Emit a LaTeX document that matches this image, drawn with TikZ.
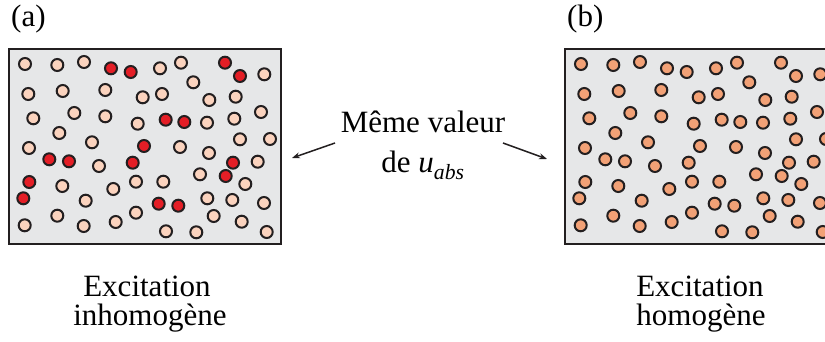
\documentclass[tikz,border=0pt]{standalone}
\usepackage{fontspec}
\setmainfont{Liberation Serif}
\usetikzlibrary{arrows.meta}
\definecolor{boxgray}{HTML}{E6E7E8}
\definecolor{outl}{HTML}{231F20}
\definecolor{peach}{HTML}{FBD3BE}
\definecolor{redex}{HTML}{E41E26}
\definecolor{orangex}{HTML}{F2A176}
\tikzset{
  panel/.style={draw=outl, line width=2.3pt, fill=boxgray},
  dotlight/.style={draw=outl, line width=2pt, fill=peach},
  dotred/.style={draw=outl, line width=2pt, fill=redex},
  dotorange/.style={draw=outl, line width=2pt, fill=orangex},
  lbl/.style={anchor=base, inner sep=0pt, font=\fontsize{31}{29}\selectfont},
  pointer/.style={draw=outl, line width=1.5pt, -{Stealth[length=8pt,width=6pt]}}
}
\newcommand{\lightlist}{25.0/64.0, 57.3/65.0, 84.0/62.0, 160.0/68.3, 181.0/62.7, 264.3/74.3, 193.3/82.3, 28.3/94.0, 62.7/91.0, 105.3/90.0, 142.7/97.3, 162.0/94.0, 209.3/100.0, 235.7/96.7, 33.3/118.3, 74.3/113.0, 105.3/116.3, 137.7/123.7, 207.0/122.7, 234.3/118.7, 261.0/112.0, 59.3/133.0, 92.0/142.3, 29.0/148.0, 180.0/147.0, 240.0/139.3, 270.0/139.0, 209.0/153.0, 99.0/166.0, 257.7/161.7, 62.3/186.0, 113.3/189.0, 136.0/181.7, 163.3/181.7, 200.0/174.3, 245.3/184.0, 85.7/200.7, 207.3/198.3, 232.3/200.0, 264.0/203.0, 57.3/215.7, 136.0/212.7, 213.7/216.0, 24.7/225.3, 83.7/226.0, 115.7/222.0, 166.0/231.3, 196.3/232.3, 241.7/221.7, 266.7/232.0}
\newcommand{\redlist}{111.0/68.3, 130.7/72.0, 225.0/62.7, 240.0/76.0, 165.7/119.7, 184.3/122.0, 144.0/146.0, 49.3/159.3, 69.0/161.3, 132.7/162.7, 233.0/162.7, 29.3/182.0, 225.7/176.0, 23.3/198.3, 158.7/203.7, 178.3/205.7}
\begin{document}
\begin{tikzpicture}[x=1pt,y=-1pt]
\useasboundingbox (0,0) rectangle (825,342);
\clip (0,0) rectangle (825,342);
% panel (a)
\node[panel, minimum width=272pt, minimum height=195pt, inner sep=0pt, anchor=north west] (boxa) at (8,48) {};
\foreach \x/\y in \lightlist { \draw[dotlight] (\x,\y) circle (6pt); }
\foreach \x/\y in \redlist { \draw[dotred] (\x,\y) circle (6pt); }
% panel (b)
\node[panel, minimum width=272pt, minimum height=195pt, inner sep=0pt, anchor=north west] (boxb) at (564,48) {};
\begin{scope}[xshift=556pt]
\foreach \x/\y in \lightlist { \draw[dotorange] (\x,\y) circle (6pt); }
\foreach \x/\y in \redlist { \draw[dotorange] (\x,\y) circle (6pt); }
\end{scope}
% labels
\node[lbl, anchor=base west] (la) at (11,27) {(a)};
\node[lbl, anchor=base west] (lb) at (567,27) {(b)};
\node[lbl] (m1) at (423,133) {Même valeur};
\node[lbl] (m2) at (423,173) {de \textit{u}\textsubscript{\textit{abs}}};
\node[lbl] (ea1) at (147,296) {Excitation};
\node[lbl] (ea2) at (150,325) {inhomogène};
\node[lbl] (eb1) at (700,296) {Excitation};
\node[lbl] (eb2) at (701,325) {homogène};
% arrows
\coordinate (al0) at (335,143);
\coordinate (al1) at (292,158);
\coordinate (ar0) at (503,143);
\coordinate (ar1) at (547,159);
\draw[pointer] (al0) -- (al1);
\draw[pointer] (ar0) -- (ar1);
\end{tikzpicture}
\end{document}
